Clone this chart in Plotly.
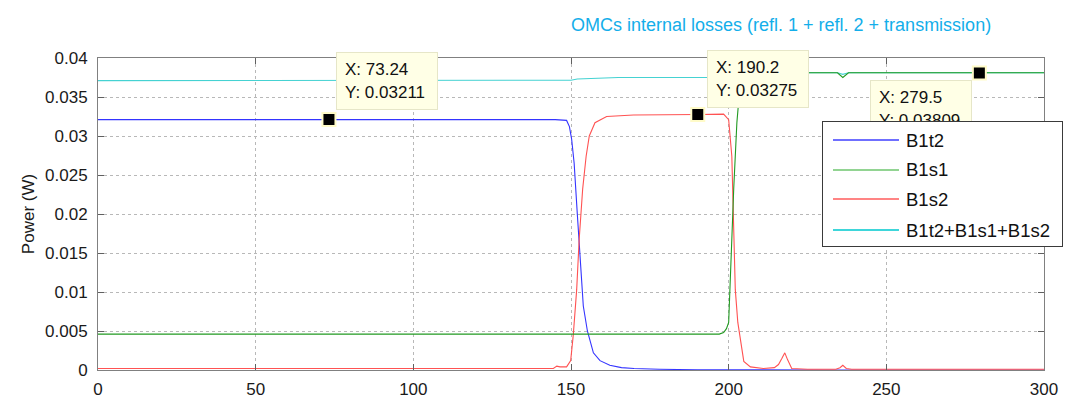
import plotly.graph_objects as go

# ---- measured power traces (W) versus sample index ----
b1t2_x = [0, 60, 73.24, 120, 145, 148.6, 149.5, 150.2, 151.0, 152.0, 152.9, 153.9,
          155.2, 157.1, 159.2, 162.3, 166, 170, 178, 190, 230, 300]
b1t2_y = [0.0321, 0.0321, 0.03211, 0.0321, 0.0321, 0.0320, 0.0312, 0.0296, 0.0265,
          0.0200, 0.0146, 0.0082, 0.0050, 0.0022, 0.0012, 0.0006, 0.0003, 0.0002,
          0.0001, 0.00003, 0.0, 0.0]

b1s1_x = [0, 197, 198.4, 199.3, 200.0, 200.7, 201.6, 202.6, 203.5, 204.5, 205.5, 207,
          215, 216.5, 217.8, 219, 221, 234.5, 236.2, 238, 279.5, 300]
b1s1_y = [0.0046, 0.0046, 0.0048, 0.0053, 0.0061, 0.0146, 0.0232, 0.0317, 0.0360,
          0.0375, 0.0379, 0.0381, 0.0381, 0.0372, 0.0361, 0.0372, 0.0381, 0.0381,
          0.0375, 0.0381, 0.03809, 0.0381]

b1s2_x = [0, 140, 144.4, 145.5, 146.5, 148.6, 149.9, 150.7, 151.8, 152.6, 153.7, 154.8,
          155.8, 157.6, 161.3, 169.8, 180, 190.2, 198.4, 200.0, 201.0, 201.6, 202.1,
          202.9, 203.8, 204.8, 206.9, 211, 214.5, 215.8, 216.9, 217.8, 218.7, 220,
          225, 234, 235.3, 236.2, 237.3, 239, 300]
b1s2_y = [0.0002, 0.0002, 0.0002, 0.0005, 0.0004, 0.0004, 0.0012, 0.0044, 0.0103,
          0.0168, 0.0232, 0.0274, 0.0300, 0.0317, 0.0325, 0.0327, 0.0327, 0.03275,
          0.0328, 0.0321, 0.0274, 0.0189, 0.0103, 0.0061, 0.0035, 0.0011, 0.0004,
          0.0002, 0.0003, 0.0007, 0.0015, 0.0022, 0.0013, 0.0002, 0.0001, 0.0001,
          0.0003, 0.0006, 0.0002, 0.0001, 0.0001]

sum_x = [0, 148, 150, 152, 155, 157.5, 165, 198, 201, 204, 206, 215, 217.8, 220,
         234.5, 236.2, 238, 300]
sum_y = [0.0371, 0.0371, 0.03715, 0.0373, 0.03735, 0.0374, 0.0375, 0.0375, 0.0378,
         0.0380, 0.0381, 0.0381, 0.0380, 0.0381, 0.0381, 0.0379, 0.0381, 0.0381]

# data tips: (x, y)
tips = [(73.24, 0.03211), (190.2, 0.03275), (279.5, 0.03809)]

x_ticks = [0, 50, 100, 150, 200, 250, 300]
y_ticks = [0, 0.005, 0.01, 0.015, 0.02, 0.025, 0.03, 0.035, 0.04]

series_names = ["B1t2", "B1s1", "B1s2", "B1t2+B1s1+B1s2"]

BLUE, GREEN, RED, CYAN = "#3434ff", "#229a22", "#ff5252", "#45d2d2"
LEG_COLORS = ["#6f6fff", "#92d492", "#ff8484", "#3ed6da"]
FONT = "Liberation Sans, Arial, Helvetica, sans-serif"

W, H = 1067, 399
ML, MR, MT, MB = 98, 23, 58, 29


def paper(px, py):
    """Pixel position on the page -> paper coordinates."""
    return (px - ML) / (W - ML - MR), 1 - (py - MT) / (H - MT - MB)


fig = go.Figure()
line_w = 1.1
fig.add_trace(go.Scatter(x=sum_x, y=sum_y, mode="lines", line=dict(color=CYAN, width=line_w),
                         name=series_names[3], showlegend=False))
fig.add_trace(go.Scatter(x=b1t2_x, y=b1t2_y, mode="lines", line=dict(color=BLUE, width=line_w),
                         name=series_names[0], showlegend=False))
fig.add_trace(go.Scatter(x=b1s2_x, y=b1s2_y, mode="lines", line=dict(color=RED, width=line_w),
                         name=series_names[2], showlegend=False))
fig.add_trace(go.Scatter(x=b1s1_x, y=b1s1_y, mode="lines", line=dict(color=GREEN, width=line_w),
                         name=series_names[1], showlegend=False))

# data-tip markers
fig.add_trace(go.Scatter(
    x=[t[0] for t in tips], y=[t[1] for t in tips], mode="markers",
    marker=dict(symbol="square", size=13, color="black",
                line=dict(color="#fffbc8", width=2)),
    showlegend=False, hoverinfo="skip"))

annotations = []

# data-tip boxes
tip_style = dict(font=dict(family=FONT, size=17, color="#111111"), bgcolor="#ffffe6",
                 bordercolor="#e6e6c8", borderwidth=1, borderpad=8, width=84, height=40,
                 align="left", valign="middle", showarrow=False, xref="x", yref="y")
tip_place = [dict(xanchor="left", yanchor="bottom", xshift=7, yshift=10),
             dict(xanchor="left", yanchor="bottom", xshift=9, yshift=7),
             dict(xanchor="right", yanchor="top", xshift=-7, yshift=-7)]
for (tx, ty), place in zip(tips, tip_place):
    annotations.append(dict(x=tx, y=ty, text=f"X: {tx:g}<br>Y: {ty:.5f}", **tip_style, **place))

# legend box
lx, ly = paper(822, 121)
annotations.append(dict(x=lx, y=ly, xref="paper", yref="paper", xanchor="left", yanchor="top",
                        text=" ", width=239, height=124, borderpad=0, borderwidth=1,
                        bordercolor="#3a3a3a", bgcolor="white", showarrow=False,
                        font=dict(size=1)))
legend_rows = [140, 169.5, 199.5, 230]
for name, col, row in zip(series_names, LEG_COLORS, legend_rows):
    sx, sy = paper(833, row)
    annotations.append(dict(x=sx, y=sy, xref="paper", yref="paper", xanchor="left",
                            yanchor="middle", text=" ", width=66, height=2, borderpad=0,
                            borderwidth=0, bgcolor=col, showarrow=False, font=dict(size=1)))
    tx_, ty_ = paper(904, row)
    annotations.append(dict(x=tx_, y=ty_, xref="paper", yref="paper", xanchor="left",
                            yanchor="middle", text=name, showarrow=False,
                            font=dict(family=FONT, size=18.5, color="#111111")))

# title
tx_, ty_ = paper(781, 25)
annotations.append(dict(x=tx_, y=ty_, xref="paper", yref="paper", xanchor="center",
                        yanchor="middle", showarrow=False,
                        text="OMCs internal losses (refl. 1 + refl. 2 + transmission)",
                        font=dict(family=FONT, size=18, color="#13aeea")))

axis_common = dict(showline=True, linecolor="#808080", linewidth=1, mirror="ticks",
                   ticks="inside", ticklen=6, tickwidth=1, tickcolor="#606060",
                   showgrid=True, gridcolor="#b8b8b8", griddash="dot", gridwidth=1,
                   zeroline=False, automargin=False,
                   tickfont=dict(family=FONT, size=17, color="#1a1a1a"))

fig.update_layout(
    width=W, height=H, margin=dict(l=ML, r=MR, t=MT, b=MB),
    paper_bgcolor="white", plot_bgcolor="white",
    xaxis=dict(range=[0, 300], tickvals=x_ticks, ticklabelstandoff=4, **axis_common),
    yaxis=dict(range=[0, 0.04], tickvals=y_ticks, ticklabelstandoff=6,
               title=dict(text="Power (W)", font=dict(family=FONT, size=17, color="#1a1a1a"),
                          standoff=6),
               **axis_common),
    annotations=annotations,
    showlegend=False,
)

fig.write_html("out.html")
